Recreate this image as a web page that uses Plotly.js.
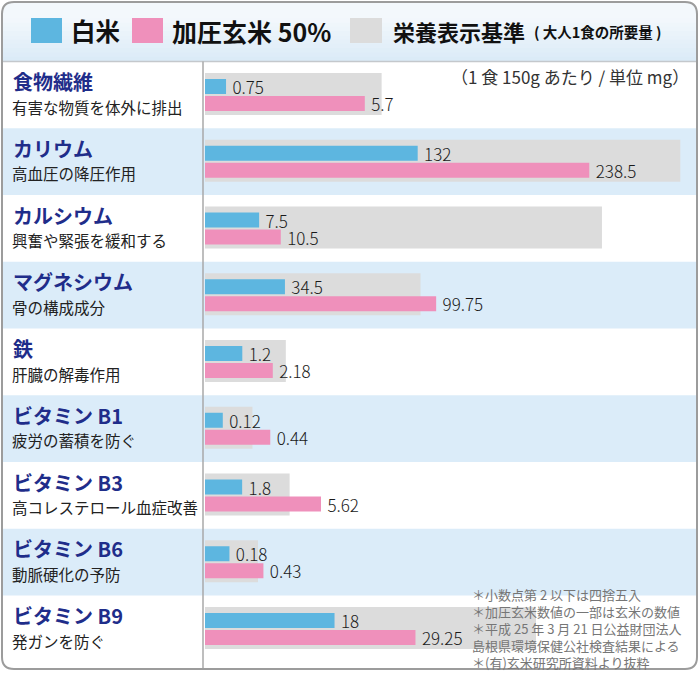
<!DOCTYPE html>
<html><head><meta charset="utf-8">
<script src="https://cdn.plot.ly/plotly-3.0.1.min.js"></script>
<style>html,body{margin:0;padding:0;background:#fff}#chart{width:700px;height:700px}</style>
</head><body><div id="chart"></div>
<script>
// ---- data ----
const nutrients = ['食物繊維','カリウム','カルシウム','マグネシウム','鉄','ビタミン B1','ビタミン B3','ビタミン B6','ビタミン B9'];
const effects = ['有害な物質を体外に排出','高血圧の降圧作用','興奮や緊張を緩和する','骨の構成成分','肝臓の解毒作用','疲労の蓄積を防ぐ','高コレステロール血症改善','動脈硬化の予防','発ガンを防ぐ'];
const whiteRice = [0.75, 132, 7.5, 34.5, 1.2, 0.12, 1.8, 0.18, 18];
const brownRice50 = [5.7, 238.5, 10.5, 99.75, 2.18, 0.44, 5.62, 0.43, 29.25];
const standardMeal = [6.3, 295, 55, 93, 2.6, 0.32, 4.1, 0.39, 46];
const seriesNames = ['白米', '加圧玄米 50%', '栄養表示基準'];
const standardNote = '( 大人1食の所要量 )';
const unitNote = '（1 食 150g あたり / 単位 mg）';
const footnotes = ['＊小数点第 2 以下は四捨五入','＊加圧玄米数値の一部は玄米の数値','＊平成 25 年 3 月 21 日公益財団法人','島根県環境保健公社検査結果による','＊(有)玄米研究所資料より抜粋'];

// ---- layout constants ----
const W = 700, H = 700;
const axisMax = [17.3, 301, 67.2, 209.3, 15.6, 3.27, 23.5, 3.57, 67.4];
const ROW0 = 61.5, ROWH = 66.75;
const BAR_L = 205, BAR_R = 690;
const C_BLUE = '#5db6e0', C_PINK = '#ef90bb', C_GRAY = '#dcdcdc';
const FONT = '"Noto Sans CJK JP", "Noto Sans", sans-serif';

const px = v => v / W;
const py = v => 1 - v / H;
const P = (x, y) => px(x) + ',' + py(y);

const traces = [];
const layout = {
  width: W, height: H, margin: {l:0, r:0, t:0, b:0},
  paper_bgcolor: '#ffffff', plot_bgcolor: 'rgba(0,0,0,0)',
  showlegend: false, barmode: 'overlay', hovermode: false,
  font: {family: FONT, color: '#222'},
  shapes: [], annotations: []
};

for (let i = 0; i < nutrients.length; i++) {
  const k = i === 0 ? '' : String(i + 1);
  const top = ROW0 + ROWH * i;
  layout['xaxis' + k] = {domain: [px(BAR_L), px(BAR_R)], range: [0, axisMax[i]], anchor: 'y' + k,
    showgrid: false, zeroline: false, showticklabels: false, ticks: '', showline: false, fixedrange: true};
  layout['yaxis' + k] = {domain: [py(top + ROWH), py(top)], range: [ROWH, 0], anchor: 'x' + k,
    showgrid: false, zeroline: false, showticklabels: false, ticks: '', showline: false, fixedrange: true};
  const tf = {family: FONT, size: 17, color: '#1a1a1a', weight: 300};
  const common = {type: 'bar', orientation: 'h', xaxis: 'x' + k, yaxis: 'y' + k, hoverinfo: 'skip',
    cliponaxis: false, constraintext: 'none', textposition: 'outside', textfont: tf, outsidetextfont: tf};
  traces.push(Object.assign({}, common, {name: seriesNames[2], x: [standardMeal[i]], y: [32.5], width: [42],
    marker: {color: C_GRAY}, text: [''], textposition: 'none'}));
  traces.push(Object.assign({}, common, {name: seriesNames[0], x: [whiteRice[i]], y: [25], width: [15],
    marker: {color: C_BLUE}, text: ['\u2009' + whiteRice[i]]}));
  traces.push(Object.assign({}, common, {name: seriesNames[1], x: [brownRice50[i]], y: [42], width: [15],
    marker: {color: C_PINK}, text: ['\u2009' + brownRice50[i]]}));

  if (i % 2 === 1) {
    layout.shapes.push({type: 'rect', xref: 'paper', yref: 'paper', layer: 'below',
      x0: px(3), x1: px(696), y0: py(top + ROWH), y1: py(top), fillcolor: '#dbecf9', line: {width: 0}});
  }
  layout.annotations.push({xref: 'paper', yref: 'paper', x: px(11), y: py(top + 20), xanchor: 'left', yanchor: 'middle',
    text: '<b>' + nutrients[i] + '</b>', showarrow: false, font: {family: FONT, size: 20, color: '#1f2d8a'}});
  layout.annotations.push({xref: 'paper', yref: 'paper', x: px(10), y: py(top + 45), xanchor: 'left', yanchor: 'middle',
    text: effects[i], showarrow: false, font: {family: FONT, size: 15.5, color: '#222'}});
}

// header gradient
const r = 12, hx0 = 2, hx1 = 697, hy0 = 2, hy1 = 61;
layout.shapes.push({type: 'path', xref: 'paper', yref: 'paper', layer: 'below',
  path: 'M' + P(hx0, hy0 + r) + 'Q' + P(hx0, hy0) + ' ' + P(hx0 + r, hy0) + 'L' + P(hx1 - r, hy0) + 'Q' + P(hx1, hy0) + ' ' + P(hx1, hy0 + r) +
        'L' + P(hx1, hy0 + 16) + 'L' + P(hx0, hy0 + 16) + 'Z',
  fillcolor: '#f3f8fc', line: {width: 0}});
const bands = 10;
for (let b = 0; b < bands; b++) {
  const y0 = hy0 + 16 + (hy1 - hy0 - 16) * b / bands, y1 = hy0 + 16 + (hy1 - hy0 - 16) * (b + 1) / bands + 0.5;
  const t = (b + 0.5) / bands;
  const c = [Math.round(243 + (218 - 243) * t), Math.round(248 + (234 - 248) * t), Math.round(252 + (247 - 252) * t)];
  layout.shapes.push({type: 'rect', xref: 'paper', yref: 'paper', layer: 'below',
    x0: px(hx0), x1: px(hx1), y0: py(Math.min(y1, hy1)), y1: py(y0), fillcolor: 'rgb(' + c.join(',') + ')', line: {width: 0}});
}
// header bottom line
layout.shapes.push({type: 'line', xref: 'paper', yref: 'paper', layer: 'above',
  x0: px(2), x1: px(697), y0: py(61.5), y1: py(61.5), line: {color: '#c4c8cc', width: 1.5}});
// vertical divider
layout.shapes.push({type: 'line', xref: 'paper', yref: 'paper', layer: 'above',
  x0: px(203), x1: px(203), y0: py(61.5), y1: py(669), line: {color: '#a8a8a8', width: 1.5}});
// outer border
const bx0 = 2, bx1 = 697, by0 = 2, by1 = 669;
layout.shapes.push({type: 'path', xref: 'paper', yref: 'paper', layer: 'above',
  path: 'M' + P(bx0 + r, by0) + 'L' + P(bx1 - r, by0) + 'Q' + P(bx1, by0) + ' ' + P(bx1, by0 + r) +
        'L' + P(bx1, by1 - r) + 'Q' + P(bx1, by1) + ' ' + P(bx1 - r, by1) +
        'L' + P(bx0 + r, by1) + 'Q' + P(bx0, by1) + ' ' + P(bx0, by1 - r) +
        'L' + P(bx0, by0 + r) + 'Q' + P(bx0, by0) + ' ' + P(bx0 + r, by0) + 'Z',
  line: {color: '#9c9c9c', width: 2}, fillcolor: 'rgba(0,0,0,0)'});

// legend swatches & labels
const legendItems = [
  {x0: 31, x1: 62, color: C_BLUE, tx: 69, text: '<b>' + seriesNames[0] + '</b>', size: 24.5},
  {x0: 132, x1: 163, color: C_PINK, tx: 170, text: '<b>' + seriesNames[1] + '</b>', size: 25},
  {x0: 350, x1: 382, color: C_GRAY, tx: 391, text: '<b>' + seriesNames[2] + '</b>', size: 22}
];
legendItems.forEach(it => {
  layout.shapes.push({type: 'rect', xref: 'paper', yref: 'paper', layer: 'above',
    x0: px(it.x0), x1: px(it.x1), y0: py(43), y1: py(18), fillcolor: it.color, line: {width: 0}});
  layout.annotations.push({xref: 'paper', yref: 'paper', x: px(it.tx), y: py(31), xanchor: 'left', yanchor: 'middle',
    text: it.text, showarrow: false, font: {family: FONT, size: it.size, color: '#111'}});
});
layout.annotations.push({xref: 'paper', yref: 'paper', x: px(664), y: py(32), xanchor: 'right', yanchor: 'middle',
  text: '<b>' + standardNote + '</b>', showarrow: false, font: {family: FONT, size: 14.5, color: '#111'}});

// unit note
layout.annotations.push({xref: 'paper', yref: 'paper', x: px(691), y: py(77), xanchor: 'right', yanchor: 'middle',
  text: unitNote, showarrow: false, font: {family: FONT, size: 17, color: '#333'}});

// footnotes (single multi-line block)
layout.annotations.push({xref: 'paper', yref: 'paper', x: px(470), y: py(583), xanchor: 'left', yanchor: 'top',
  align: 'left', text: footnotes.join('<br>'), showarrow: false, font: {family: FONT, size: 13, color: '#767676'}});

Plotly.newPlot('chart', traces, layout, {staticPlot: true, displayModeBar: false});
</script></body></html>
